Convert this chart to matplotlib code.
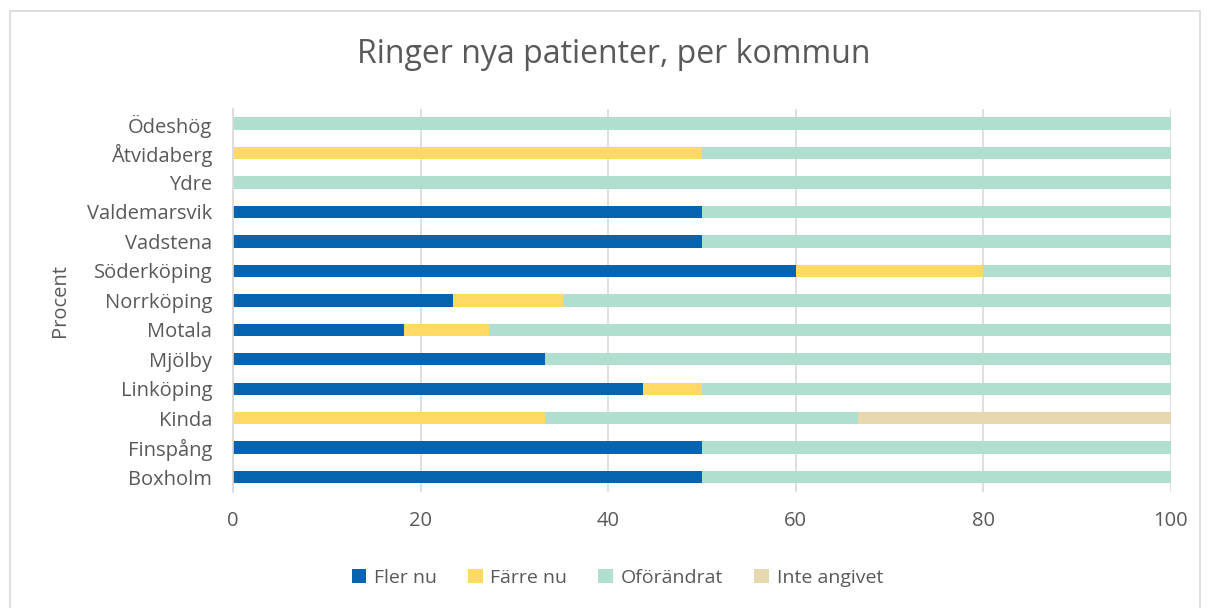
import matplotlib.pyplot as plt
from matplotlib.patches import Rectangle

kommuner = ['Boxholm', 'Finspång', 'Kinda', 'Linköping', 'Mjölby', 'Motala',
            'Norrköping', 'Söderköping', 'Vadstena', 'Valdemarsvik', 'Ydre',
            'Åtvidaberg', 'Ödeshög']
fler = [50, 50, 0, 43.75, 33.3, 18.2, 23.5, 60, 50, 50, 0, 0, 0]
farre = [0, 0, 33.3, 6.25, 0, 9.1, 11.8, 20, 0, 0, 0, 50, 0]
oforandrat = [50, 50, 33.4, 50, 66.7, 72.7, 64.7, 20, 50, 50, 100, 50, 100]
inte_angivet = [0, 0, 33.3, 0, 0, 0, 0, 0, 0, 0, 0, 0, 0]

series = [('Fler nu', fler, '#0563B0'),
          ('Färre nu', farre, '#FFD966'),
          ('Oförändrat', oforandrat, '#B0DFD0'),
          ('Inte angivet', inte_angivet, '#E8D8B0')]

plt.rcParams['font.family'] = ['Open Sans', 'DejaVu Sans']
txt = '#595959'

fig = plt.figure(figsize=(12.08, 6.08), dpi=100)
ax = fig.add_axes([0.193, 0.191, 0.776, 0.630])

left = [0] * len(kommuner)
for name, vals, color in series:
    ax.barh(kommuner, vals, left=left, height=0.42, color=color, label=name, zorder=2)
    left = [a + b for a, b in zip(left, vals)]

ax.set_xlim(0, 100)
ax.set_ylim(-0.5, len(kommuner) - 0.5)
ax.set_xticks(range(0, 101, 20))
ax.grid(axis='x', color='#D9D9D9', linewidth=1.2, zorder=0)
for s in ['top', 'right', 'bottom']:
    ax.spines[s].set_visible(False)
ax.spines['left'].set_color('#D9D9D9')
ax.spines['left'].set_linewidth(1.2)
ax.tick_params(length=0, labelsize=14.5, labelcolor=txt)
ax.tick_params(axis='y', pad=15)
ax.tick_params(axis='x', pad=14)
ax.set_ylabel('Procent', fontsize=14.5, color=txt, labelpad=12)

fig.text(0.508, 0.91, 'Ringer nya patienter, per kommun', ha='center', va='center',
         fontsize=23, color=txt)

fig.legend(loc='center', bbox_to_anchor=(0.511, 0.05), ncol=4, frameon=False,
           fontsize=14, labelcolor=txt, handlelength=0.75, handleheight=0.75,
           handletextpad=0.4, columnspacing=1.6)

fig.patches.append(Rectangle((0.008, -0.05), 0.985, 1.032, transform=fig.transFigure,
                             fill=False, edgecolor='#D9D9D9', linewidth=1.2))

fig.savefig('out.png', dpi=100)
